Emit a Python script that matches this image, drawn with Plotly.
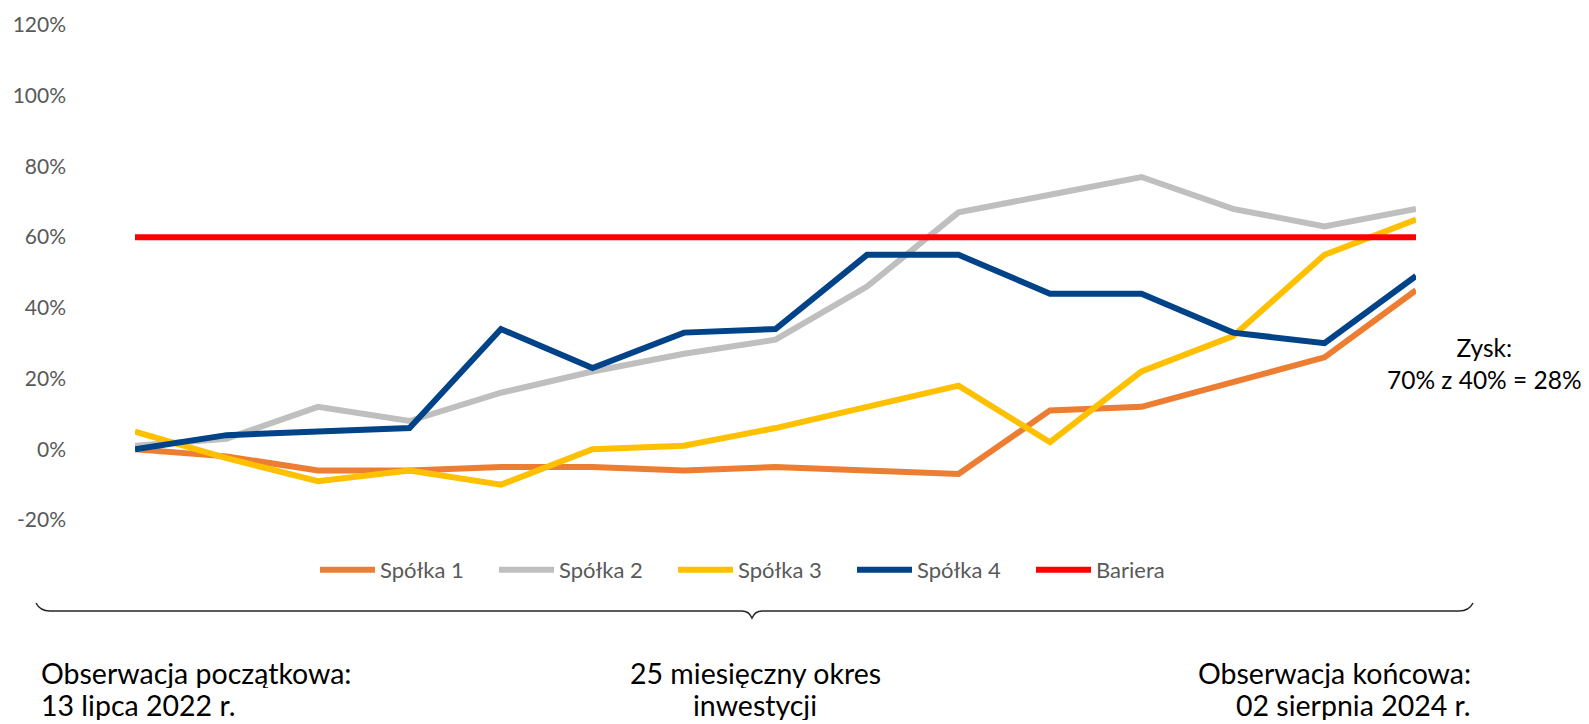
import plotly.graph_objects as go

periods = list(range(15))
spolka1 = [0, -2, -6, -6, -5, -5, -6, -5, -6, -7, 11, 12, 19, 26, 45]
spolka2 = [1, 3, 12, 8, 16, 22, 27, 31, 46, 67, 72, 77, 68, 63, 68]
spolka3 = [5, -2.5, -9, -6, -10, 0, 1, 6, 12, 18, 2, 22, 32, 55, 65]
spolka4 = [0, 4, 5, 6, 34, 23, 33, 34, 55, 55, 44, 44, 33, 30, 49]
bariera = [60] * 15

series = [
    ("Spółka 1", spolka1, "#ED7D31"),
    ("Spółka 2", spolka2, "#BFBFBF"),
    ("Spółka 3", spolka3, "#FFC000"),
    ("Spółka 4", spolka4, "#004388"),
    ("Bariera", bariera, "#FF0000"),
]
y_ticks = [-20, 0, 20, 40, 60, 80, 100, 120]

# page is offset by the default 8px body margin
OFF = 8
PW, PH = 1589, 724
W, H = PW - OFF, PH - OFF
L, R, T, B = 135, 1416, 25, 520  # page coords of plot area

def px(x):
    return (x - L) / (R - L)

def py(y):
    return (B - y) / (B - T)

fig = go.Figure()
for name, vals, col in series:
    fig.add_trace(go.Scatter(x=periods, y=vals, name=name, mode="lines",
                             line=dict(color=col, width=6), cliponaxis=False))

font_main = "Lato, 'Noto Sans', sans-serif"

brace = (f"M {px(36)},{py(603)} Q {px(40)},{py(611)} {px(50)},{py(611)} "
         f"L {px(742)},{py(611)} Q {px(749)},{py(611)} {px(752)},{py(618)} "
         f"Q {px(755)},{py(611)} {px(762)},{py(611)} "
         f"L {px(1459)},{py(611)} Q {px(1469)},{py(611)} {px(1473)},{py(603)}")

bottom_texts = [
    ("Obserwacja początkowa:", "13 lipca 2022 r.", 40, "left"),
    ("25 miesięczny okres", "inwestycji", 755, "center"),
    ("Obserwacja końcowa:", "02 sierpnia 2024 r.", 1472, "right"),
]
annotations = []
for l1, l2, xx, anc in bottom_texts:
    for txt, yy in ((l1, 673), (l2, 705)):
        annotations.append(dict(text=txt, xref="paper", yref="paper", x=px(xx), y=py(yy),
                                xanchor=anc, yanchor="middle", showarrow=False,
                                height=30, borderpad=0,
                                font=dict(size=28.5, color="#000000")))
annotations.append(dict(text="Zysk:<br>70% z 40% = 28%", xref="paper", yref="paper",
                        x=px(1484), y=py(363), xanchor="center", yanchor="middle",
                        align="center", showarrow=False,
                        font=dict(size=24.5, color="#000000")))

fig.update_layout(
    width=W, height=H,
    margin=dict(l=L - OFF, r=W - (R - OFF), t=T - OFF, b=H - (B - OFF)),
    paper_bgcolor="white", plot_bgcolor="white",
    font=dict(family=font_main, color="#595959", size=21),
    xaxis=dict(range=[0, 14], visible=False, automargin=False),
    yaxis=dict(range=[-20, 120], tickvals=y_ticks,
               ticktext=[f"{v}%" for v in y_ticks],
               showgrid=False, zeroline=False, showline=False,
               ticks="", ticklabelstandoff=68, automargin=False,
               tickfont=dict(size=21, color="#595959")),
    showlegend=True,
    legend=dict(orientation="h", x=px(315), xanchor="left", y=py(570), yanchor="middle",
                font=dict(size=22, color="#595959"), itemwidth=55,
                entrywidth=109, entrywidthmode="pixels", bgcolor="rgba(0,0,0,0)"),
    shapes=[dict(type="path", path=brace, xref="paper", yref="paper",
                 line=dict(color="#262626", width=1.5))],
    annotations=annotations,
)

fig.write_html("out.html")
